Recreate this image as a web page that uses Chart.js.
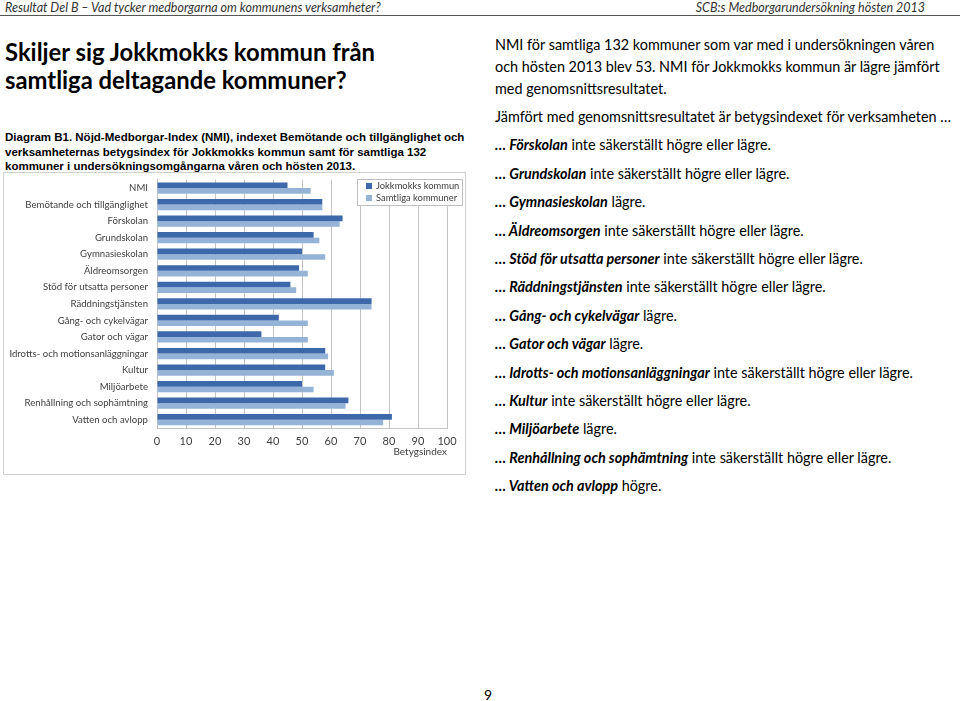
<!DOCTYPE html>
<html>
<head>
<meta charset="utf-8">
<script src="https://cdn.jsdelivr.net/npm/chart.js@4"></script>
<style>
  body { margin: 0; width: 960px; height: 701px; position: relative; background: #fff; font-family: Lato, sans-serif; color: #000; overflow: hidden; }
  .hdr { position: absolute; top: 0; font-style: italic; font-size: 12.5px; color: #333; }
  .rule { position: absolute; left: 0; top: 15px; width: 960px; height: 1px; background: #555; }
  h1 { position: absolute; left: 5px; top: 38px; margin: 0; font-size: 23.8px; line-height: 28px; font-weight: bold; }
  .cap { position: absolute; left: 5px; top: 130px; white-space: nowrap; font-family: "Liberation Sans", Arial, sans-serif; font-weight: bold; font-size: 11.5px; line-height: 14.5px; }
  #box { position: absolute; left: 3px; top: 172px; width: 461px; height: 301px; border: 1px solid #d0d0d0; }
  .txt { position: absolute; left: 495px; top: 34px; width: 465px; font-size: 14.4px; }
  .txt p { margin: 0; line-height: 22px; white-space: nowrap; }
  .txt p.l { margin-top: 6px; line-height: 22.4px; }
  .pg { position: absolute; left: 484px; top: 686px; font-size: 14px; }
</style>
</head>
<body>
<div class="hdr" style="left:5px">Resultat Del B – Vad tycker medborgarna om kommunens verksamheter?</div>
<div class="hdr" style="right:35px">SCB:s Medborgarundersökning hösten 2013</div>
<div class="rule"></div>
<h1>Skiljer sig Jokkmokks kommun från<br>samtliga deltagande kommuner?</h1>
<div class="cap">Diagram B1. Nöjd-Medborgar-Index (NMI), indexet Bemötande och tillgänglighet och<br>verksamheternas betygsindex för Jokkmokks kommun samt för samtliga 132<br>kommuner i undersökningsomgångarna våren och hösten 2013.</div>
<div id="box"><canvas id="chart"></canvas></div>
<div class="txt">
  <p>NMI för samtliga 132 kommuner som var med i undersökningen våren</p>
  <p>och hösten 2013 blev 53. NMI för Jokkmokks kommun är lägre jämfört</p>
  <p>med genomsnittsresultatet.</p>
  <p class="l">Jämfört med genomsnittsresultatet är betygsindexet för verksamheten …</p>
  <p class="l"><b><i>… Förskolan</i></b> inte säkerställt högre eller lägre.</p>
  <p class="l"><b><i>… Grundskolan</i></b> inte säkerställt högre eller lägre.</p>
  <p class="l"><b><i>… Gymnasieskolan</i></b> lägre.</p>
  <p class="l"><b><i>… Äldreomsorgen</i></b> inte säkerställt högre eller lägre.</p>
  <p class="l"><b><i>… Stöd för utsatta personer</i></b> inte säkerställt högre eller lägre.</p>
  <p class="l"><b><i>… Räddningstjänsten</i></b> inte säkerställt högre eller lägre.</p>
  <p class="l"><b><i>… Gång- och cykelvägar</i></b> lägre.</p>
  <p class="l"><b><i>… Gator och vägar</i></b> lägre.</p>
  <p class="l"><b><i>… Idrotts- och motionsanläggningar</i></b> inte säkerställt högre eller lägre.</p>
  <p class="l"><b><i>… Kultur</i></b> inte säkerställt högre eller lägre.</p>
  <p class="l"><b><i>… Miljöarbete</i></b> lägre.</p>
  <p class="l"><b><i>… Renhållning och sophämtning</i></b> inte säkerställt högre eller lägre.</p>
  <p class="l"><b><i>… Vatten och avlopp</i></b> högre.</p>
</div>
<div class="pg">9</div>

<script>
// Categories and index values
const categories = [
  'NMI', 'Bemötande och tillgänglighet', 'Förskolan', 'Grundskolan',
  'Gymnasieskolan', 'Äldreomsorgen', 'Stöd för utsatta personer',
  'Räddningstjänsten', 'Gång- och cykelvägar', 'Gator och vägar',
  'Idrotts- och motionsanläggningar', 'Kultur', 'Miljöarbete',
  'Renhållning och sophämtning', 'Vatten och avlopp'
];
const jokkmokk = [45, 57, 64, 54, 50, 49, 46, 74, 42, 36, 58, 58, 50, 66, 81];
const samtliga = [53, 57, 63, 56, 58, 52, 48, 74, 52, 52, 59, 61, 54, 65, 78];
const xTicks = [0, 10, 20, 30, 40, 50, 60, 70, 80, 90, 100];

const textColor = '#404040';
const gridColor = '#c4c4c4';

// Legend drawn inside the plot area, like the Excel original
const boxLegend = {
  id: 'boxLegend',
  afterDraw(chart) {
    const ctx = chart.ctx;
    const x = 353, y = 6, w = 106, h = 27;
    ctx.save();
    ctx.fillStyle = '#fff';
    ctx.fillRect(x, y, w, h);
    ctx.strokeStyle = '#bfbfbf';
    ctx.lineWidth = 1;
    ctx.strokeRect(x + 0.5, y + 0.5, w - 1, h - 1);
    ctx.font = '9.4px Lato, sans-serif';
    ctx.textBaseline = 'middle';
    chart.data.datasets.forEach((ds, i) => {
      const cy = y + 7 + i * 12;
      ctx.fillStyle = ds.backgroundColor;
      ctx.fillRect(x + 9, cy - 3, 6, 6);
      ctx.fillStyle = textColor;
      ctx.fillText(ds.label, x + 19, cy);
    });
    ctx.restore();
  }
};

new Chart(document.getElementById('chart'), {
  type: 'bar',
  data: {
    labels: categories,
    datasets: [
      { label: 'Jokkmokks kommun', data: jokkmokk, backgroundColor: '#3D68AA' },
      { label: 'Samtliga kommuner', data: samtliga, backgroundColor: '#95B3D7' }
    ]
  },
  options: {
    indexAxis: 'y',
    responsive: true,
    maintainAspectRatio: false,
    animation: false,
    layout: { padding: { top: 0, right: 18, bottom: 16, left: 0 } },
    datasets: { bar: { categoryPercentage: 0.68, barPercentage: 1 } },
    plugins: { legend: { display: false }, tooltip: { enabled: false } },
    scales: {
      x: {
        min: 0, max: 100,
        afterBuildTicks: (axis) => { axis.ticks = xTicks.map((v) => ({ value: v })); },
        afterFit: (axis) => { axis.height = 30; },
        grid: { color: gridColor, drawTicks: false },
        border: { color: gridColor },
        ticks: { color: textColor, font: { family: 'Lato', size: 11 }, padding: 7 },
        title: { display: true, text: 'Betygsindex', align: 'end', color: textColor, font: { family: 'Lato', size: 10 }, padding: { top: 0, bottom: 0 } }
      },
      y: {
        afterFit: (axis) => { axis.width = 153; },
        grid: { display: false },
        border: { color: gridColor },
        ticks: { color: textColor, font: { family: 'Lato', size: 9.6 }, padding: 1, autoSkip: false }
      }
    }
  },
  plugins: [boxLegend]
});
</script>
</body>
</html>
